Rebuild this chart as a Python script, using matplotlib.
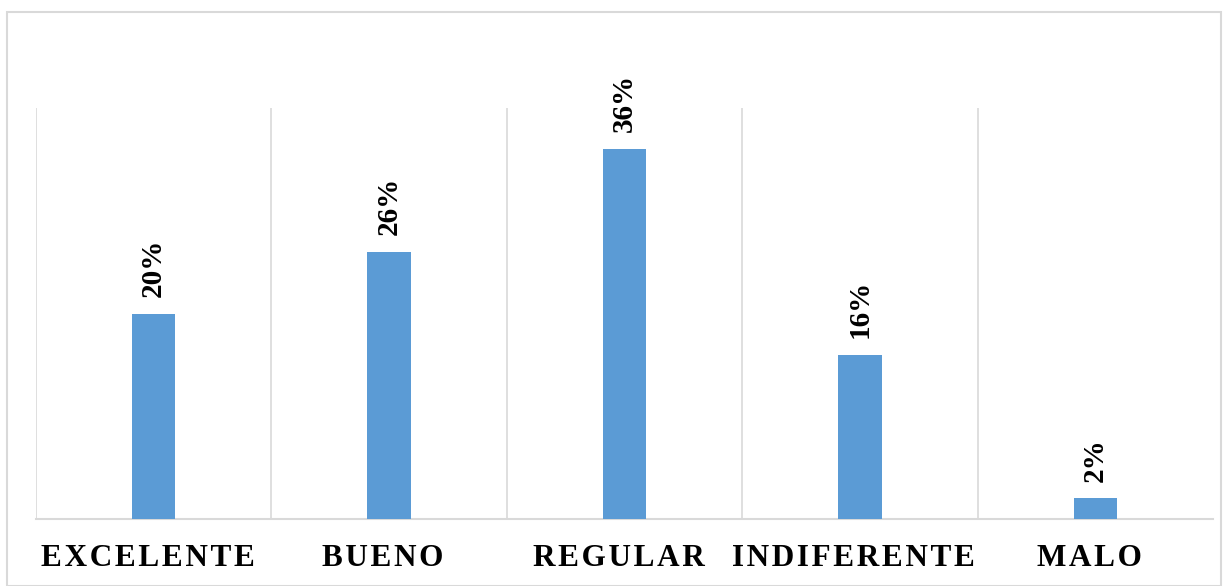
import matplotlib.pyplot as plt
from matplotlib.patches import Rectangle
from matplotlib.transforms import ScaledTranslation

categories = ["EXCELENTE", "BUENO", "REGULAR", "INDIFERENTE", "MALO"]
values = [20, 26, 36, 16, 2]
labels = ["20%", "26%", "36%", "16%", "2%"]

bar_color = "#5B9BD5"
grid_color = "#D9D9D9"

fig = plt.figure(figsize=(12.28, 5.86), dpi=100)
ax = fig.add_axes([36 / 1228, 67 / 586, 1177 / 1228, 411 / 586])

x = list(range(len(categories)))
ax.bar(x, values, width=0.185, color=bar_color, zorder=3)

ax.set_xlim(-0.5, len(categories) - 0.5)
ax.set_ylim(0, 40)

# vertical separators between categories
for b in range(len(categories)):
    ax.axvline(b - 0.5, color=grid_color, lw=1.2, zorder=1)

for s in ["top", "right", "left"]:
    ax.spines[s].set_visible(False)
ax.spines["bottom"].set_color(grid_color)
ax.spines["bottom"].set_linewidth(1.5)

ax.set_yticks([])
ax.set_xticks(x)
# letter spacing with hair spaces
ax.set_xticklabels(["\u200a".join(c) for c in categories], fontfamily="Liberation Serif",
                   fontweight="bold", fontsize=22.5)
ax.tick_params(axis="x", length=0, pad=18)
shift = ScaledTranslation(-6 / 100, 0, fig.dpi_scale_trans)
for t in ax.get_xticklabels():
    t.set_transform(t.get_transform() + shift)

for xi, v, lab in zip(x, values, labels):
    ax.annotate(lab, (xi, v), xytext=(0, 12), textcoords="offset points",
                rotation=90, ha="center", va="bottom", fontfamily="Liberation Serif",
                fontweight="bold", fontsize=21)

# outer chart border
fig.patches.append(Rectangle((7 / 1228, 0), 1214 / 1228, 574 / 586,
                             transform=fig.transFigure, fill=False,
                             edgecolor=grid_color, lw=1.5))

fig.savefig("out.png", dpi=100)
